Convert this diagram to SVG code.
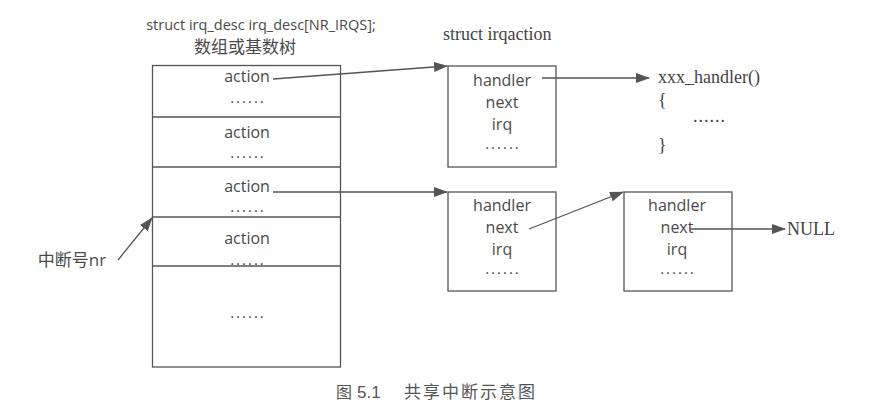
<svg xmlns="http://www.w3.org/2000/svg" width="870" height="418" viewBox="0 0 870 418">
<defs>
<style>
.box{fill:#ffffff;stroke:#555;stroke-width:1.3}
.t{font-family:"Open Sans","Noto Sans CJK SC",sans-serif;font-size:16px;fill:#4a4a4a;text-anchor:middle}
.d{font-family:"Open Sans",sans-serif;font-size:15px;fill:#4a4a4a;text-anchor:middle;letter-spacing:2px}
.s{font-family:"Liberation Serif",serif;font-size:18px;fill:#444}
.c{font-family:"Noto Sans CJK SC",sans-serif;fill:#555;font-size:16px}
.ln{stroke:#555;stroke-width:1.3;fill:none;marker-end:url(#ah)}
</style>
<marker id="ah" markerUnits="userSpaceOnUse" markerWidth="14" markerHeight="10" refX="13" refY="5" orient="auto">
<path d="M0,0 L14,5 L0,10 z" fill="#555"/>
</marker>
</defs>
<rect width="870" height="418" fill="#ffffff"/>

<g id="title">
<text class="t" x="261" y="30" style="font-size:14.5px">struct irq_desc irq_desc[NR_IRQS];</text>
<text class="t" x="245" y="53" style="font-size:17px">数组或基数树</text>
</g>

<g id="irq_desc">
<rect class="box" x="152.5" y="65.5" width="188" height="301.5"/>
<line x1="152.5" y1="117" x2="340.5" y2="117" stroke="#555" stroke-width="1.3"/>
<line x1="152.5" y1="167" x2="340.5" y2="167" stroke="#555" stroke-width="1.3"/>
<line x1="152.5" y1="217" x2="340.5" y2="217" stroke="#555" stroke-width="1.3"/>
<line x1="152.5" y1="266" x2="340.5" y2="266" stroke="#555" stroke-width="1.3"/>
<text class="t" x="247" y="82">action</text>
<text class="d" x="248" y="103">......</text>
<text class="t" x="247" y="138">action</text>
<text class="d" x="248" y="158">......</text>
<text class="t" x="247" y="192">action</text>
<text class="d" x="248" y="212">......</text>
<text class="t" x="247" y="244">action</text>
<text class="d" x="248" y="265">......</text>
<text class="d" x="248" y="318">......</text>
</g>

<g id="nr_label">
<text class="t" x="72" y="266" style="font-size:17px">中断号nr</text>
</g>

<g id="irqaction_label">
<text class="s" x="443" y="40">struct irqaction</text>
</g>

<g id="action1">
<rect class="box" x="448" y="66" width="108" height="101"/>
<text class="t" x="502" y="86">handler</text>
<text class="t" x="502" y="108">next</text>
<text class="t" x="502" y="130">irq</text>
<text class="d" x="503" y="149">......</text>
</g>

<g id="handler_func">
<text class="s" x="658" y="83">xxx_handler()</text>
<text class="s" x="658" y="106">{</text>
<text class="s" x="693" y="122" style="letter-spacing:1px">......</text>
<text class="s" x="658" y="151">}</text>
</g>

<g id="action2">
<rect class="box" x="448" y="192" width="108" height="99"/>
<text class="t" x="502" y="211">handler</text>
<text class="t" x="502" y="233">next</text>
<text class="t" x="502" y="255">irq</text>
<text class="d" x="503" y="274">......</text>
</g>

<g id="action3">
<rect class="box" x="624" y="192" width="108" height="99"/>
<text class="t" x="677" y="211">handler</text>
<text class="t" x="677" y="233">next</text>
<text class="t" x="677" y="255">irq</text>
<text class="d" x="678" y="274">......</text>
</g>

<g id="null">
<text class="s" x="787" y="235">NULL</text>
</g>

<g id="connectors">
<line class="ln" x1="273" y1="79" x2="447" y2="66"/>
<line class="ln" x1="542" y1="78" x2="649" y2="78"/>
<line class="ln" x1="273" y1="192" x2="447" y2="192"/>
<line class="ln" x1="529" y1="229" x2="623" y2="192"/>
<line class="ln" x1="690" y1="229" x2="785" y2="229"/>
<line class="ln" x1="118" y1="260" x2="152" y2="218"/>
</g>

<g id="caption">
<text class="c" x="336" y="398">图<tspan x="357" font-family="Liberation Sans" font-size="17">5.1</tspan><tspan x="404" style="letter-spacing:2px;font-size:17px">共享中断示意图</tspan></text>
</g>
</svg>
